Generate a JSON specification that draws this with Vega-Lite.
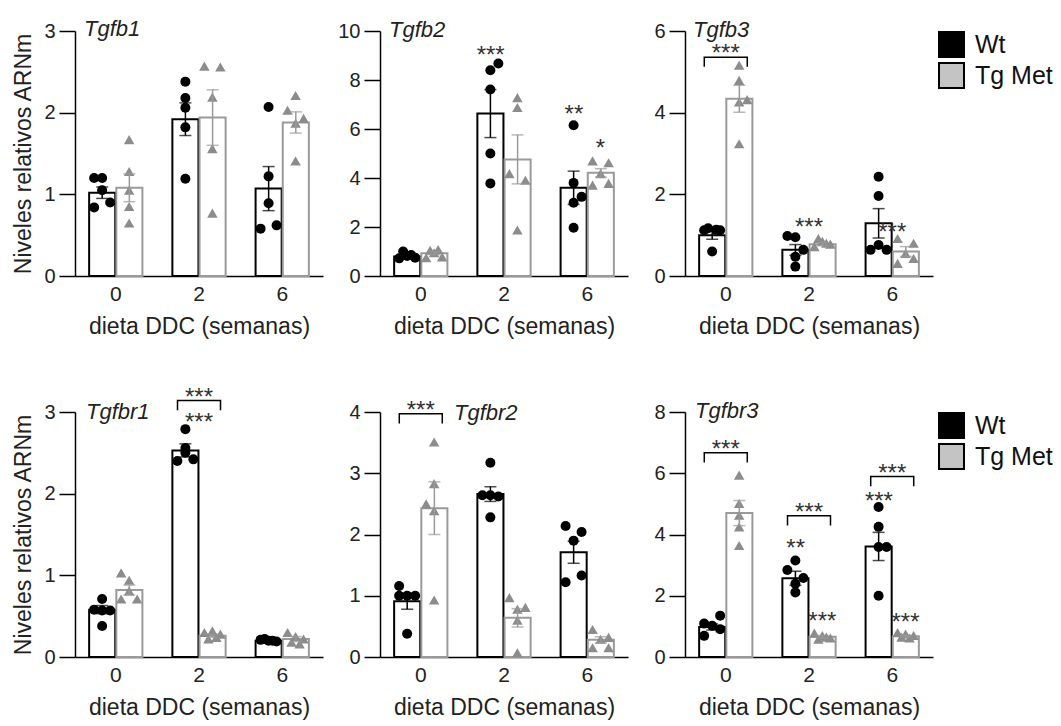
{
  "$schema": "https://vega.github.io/schema/vega-lite/v6.json",
  "background": "white",
  "padding": {"left": 12, "top": 18, "right": 5, "bottom": 5},
  "config": {
    "font": "Liberation Sans",
    "view": {"stroke": null},
    "axis": {"domainColor": "black", "domainWidth": 1.5, "tickColor": "black", "tickWidth": 1.5, "labelColor": "#222", "titleColor": "#222", "titleFontWeight": "normal", "grid": false},
    "axisX": {"ticks": false, "labelAngle": 0, "labelFontSize": 21, "labelPadding": 7, "titleFontSize": 23, "titlePadding": 11},
    "axisY": {"tickSize": 16, "labelPadding": 4, "labelFontSize": 20, "titleFontSize": 23, "titlePadding": 8},
    "title": {"anchor": "start", "frame": "group", "fontSize": 22, "fontStyle": "italic", "fontWeight": "normal", "baseline": "alphabetic", "offset": -16, "color": "#222"},
    "scale": {"offsetBandPaddingInner": 0.04, "offsetBandPaddingOuter": 0},
    "legend": {"orient": "right", "offset": 5, "symbolType": "square", "symbolSize": 625, "symbolStrokeColor": "black", "symbolStrokeWidth": 2, "labelFontSize": 25, "labelOffset": 10, "rowPadding": -2, "labelColor": "#111", "padding": 0, "labelBaseline": "middle"}
  },
  "datasets": {
    "stats": [
      {"gene": "Tgfb1", "week": 0, "group": "Wt", "v": 1.02, "se": 0.07},
      {"gene": "Tgfb1", "week": 0, "group": "Tg Met", "v": 1.08, "se": 0.17},
      {"gene": "Tgfb1", "week": 2, "group": "Wt", "v": 1.92, "se": 0.2},
      {"gene": "Tgfb1", "week": 2, "group": "Tg Met", "v": 1.94, "se": 0.34},
      {"gene": "Tgfb1", "week": 6, "group": "Wt", "v": 1.07, "se": 0.27},
      {"gene": "Tgfb1", "week": 6, "group": "Tg Met", "v": 1.88, "se": 0.13},
      {"gene": "Tgfb2", "week": 0, "group": "Wt", "v": 0.8, "se": 0.05},
      {"gene": "Tgfb2", "week": 0, "group": "Tg Met", "v": 0.93, "se": 0.06},
      {"gene": "Tgfb2", "week": 2, "group": "Wt", "v": 6.63, "se": 0.98},
      {"gene": "Tgfb2", "week": 2, "group": "Tg Met", "v": 4.76, "se": 1.0},
      {"gene": "Tgfb2", "week": 6, "group": "Wt", "v": 3.6, "se": 0.68},
      {"gene": "Tgfb2", "week": 6, "group": "Tg Met", "v": 4.21, "se": 0.17},
      {"gene": "Tgfb3", "week": 0, "group": "Wt", "v": 1.0, "se": 0.1},
      {"gene": "Tgfb3", "week": 0, "group": "Tg Met", "v": 4.34, "se": 0.33},
      {"gene": "Tgfb3", "week": 2, "group": "Wt", "v": 0.64, "se": 0.13},
      {"gene": "Tgfb3", "week": 2, "group": "Tg Met", "v": 0.78, "se": 0.04},
      {"gene": "Tgfb3", "week": 6, "group": "Wt", "v": 1.29, "se": 0.36},
      {"gene": "Tgfb3", "week": 6, "group": "Tg Met", "v": 0.6, "se": 0.12},
      {"gene": "Tgfbr1", "week": 0, "group": "Wt", "v": 0.58, "se": 0.05},
      {"gene": "Tgfbr1", "week": 0, "group": "Tg Met", "v": 0.82, "se": 0.06},
      {"gene": "Tgfbr1", "week": 2, "group": "Wt", "v": 2.53, "se": 0.08},
      {"gene": "Tgfbr1", "week": 2, "group": "Tg Met", "v": 0.26, "se": 0.02},
      {"gene": "Tgfbr1", "week": 6, "group": "Wt", "v": 0.2, "se": 0.01},
      {"gene": "Tgfbr1", "week": 6, "group": "Tg Met", "v": 0.22, "se": 0.03},
      {"gene": "Tgfbr2", "week": 0, "group": "Wt", "v": 0.91, "se": 0.13},
      {"gene": "Tgfbr2", "week": 0, "group": "Tg Met", "v": 2.43, "se": 0.43},
      {"gene": "Tgfbr2", "week": 2, "group": "Wt", "v": 2.66, "se": 0.12},
      {"gene": "Tgfbr2", "week": 2, "group": "Tg Met", "v": 0.64, "se": 0.15},
      {"gene": "Tgfbr2", "week": 6, "group": "Wt", "v": 1.71, "se": 0.18},
      {"gene": "Tgfbr2", "week": 6, "group": "Tg Met", "v": 0.28, "se": 0.05},
      {"gene": "Tgfbr3", "week": 0, "group": "Wt", "v": 0.98, "se": 0.1},
      {"gene": "Tgfbr3", "week": 0, "group": "Tg Met", "v": 4.7, "se": 0.41},
      {"gene": "Tgfbr3", "week": 2, "group": "Wt", "v": 2.57, "se": 0.23},
      {"gene": "Tgfbr3", "week": 2, "group": "Tg Met", "v": 0.66, "se": 0.04},
      {"gene": "Tgfbr3", "week": 6, "group": "Wt", "v": 3.61, "se": 0.46},
      {"gene": "Tgfbr3", "week": 6, "group": "Tg Met", "v": 0.68, "se": 0.03}
    ],
    "obs": [
      {"gene": "Tgfb1", "week": 0, "group": "Wt", "v": 1.2, "lane": -2},
      {"gene": "Tgfb1", "week": 0, "group": "Wt", "v": 1.2, "lane": 0},
      {"gene": "Tgfb1", "week": 0, "group": "Wt", "v": 1.05, "lane": 0},
      {"gene": "Tgfb1", "week": 0, "group": "Wt", "v": 0.84, "lane": -2},
      {"gene": "Tgfb1", "week": 0, "group": "Wt", "v": 0.9, "lane": 2},
      {"gene": "Tgfb1", "week": 0, "group": "Tg Met", "v": 1.67, "lane": 0},
      {"gene": "Tgfb1", "week": 0, "group": "Tg Met", "v": 1.28, "lane": 0},
      {"gene": "Tgfb1", "week": 0, "group": "Tg Met", "v": 1.05, "lane": 0},
      {"gene": "Tgfb1", "week": 0, "group": "Tg Met", "v": 0.85, "lane": 0},
      {"gene": "Tgfb1", "week": 0, "group": "Tg Met", "v": 0.65, "lane": 0},
      {"gene": "Tgfb1", "week": 2, "group": "Wt", "v": 2.38, "lane": 0},
      {"gene": "Tgfb1", "week": 2, "group": "Wt", "v": 2.18, "lane": 0},
      {"gene": "Tgfb1", "week": 2, "group": "Wt", "v": 2.06, "lane": 0},
      {"gene": "Tgfb1", "week": 2, "group": "Wt", "v": 1.82, "lane": 0},
      {"gene": "Tgfb1", "week": 2, "group": "Wt", "v": 1.19, "lane": 0},
      {"gene": "Tgfb1", "week": 2, "group": "Tg Met", "v": 2.57, "lane": -2},
      {"gene": "Tgfb1", "week": 2, "group": "Tg Met", "v": 2.56, "lane": 2},
      {"gene": "Tgfb1", "week": 2, "group": "Tg Met", "v": 2.19, "lane": 0},
      {"gene": "Tgfb1", "week": 2, "group": "Tg Met", "v": 1.56, "lane": 0},
      {"gene": "Tgfb1", "week": 2, "group": "Tg Met", "v": 0.77, "lane": 0},
      {"gene": "Tgfb1", "week": 6, "group": "Wt", "v": 2.07, "lane": 0},
      {"gene": "Tgfb1", "week": 6, "group": "Wt", "v": 1.22, "lane": 0},
      {"gene": "Tgfb1", "week": 6, "group": "Wt", "v": 0.89, "lane": 0},
      {"gene": "Tgfb1", "week": 6, "group": "Wt", "v": 0.58, "lane": -2},
      {"gene": "Tgfb1", "week": 6, "group": "Wt", "v": 0.62, "lane": 2},
      {"gene": "Tgfb1", "week": 6, "group": "Tg Met", "v": 2.21, "lane": 0},
      {"gene": "Tgfb1", "week": 6, "group": "Tg Met", "v": 2.03, "lane": -2},
      {"gene": "Tgfb1", "week": 6, "group": "Tg Met", "v": 1.93, "lane": 2},
      {"gene": "Tgfb1", "week": 6, "group": "Tg Met", "v": 1.87, "lane": 0},
      {"gene": "Tgfb1", "week": 6, "group": "Tg Met", "v": 1.41, "lane": 0},

      {"gene": "Tgfb2", "week": 0, "group": "Wt", "v": 0.72, "lane": -2},
      {"gene": "Tgfb2", "week": 0, "group": "Wt", "v": 1.0, "lane": -1},
      {"gene": "Tgfb2", "week": 0, "group": "Wt", "v": 0.82, "lane": 0},
      {"gene": "Tgfb2", "week": 0, "group": "Wt", "v": 0.86, "lane": 1},
      {"gene": "Tgfb2", "week": 0, "group": "Wt", "v": 0.75, "lane": 2},
      {"gene": "Tgfb2", "week": 0, "group": "Tg Met", "v": 0.75, "lane": -2},
      {"gene": "Tgfb2", "week": 0, "group": "Tg Met", "v": 1.05, "lane": -1},
      {"gene": "Tgfb2", "week": 0, "group": "Tg Met", "v": 0.95, "lane": 0},
      {"gene": "Tgfb2", "week": 0, "group": "Tg Met", "v": 1.08, "lane": 1},
      {"gene": "Tgfb2", "week": 0, "group": "Tg Met", "v": 0.78, "lane": 2},
      {"gene": "Tgfb2", "week": 2, "group": "Wt", "v": 8.4, "lane": 0},
      {"gene": "Tgfb2", "week": 2, "group": "Wt", "v": 8.67, "lane": 2},
      {"gene": "Tgfb2", "week": 2, "group": "Wt", "v": 7.61, "lane": 0},
      {"gene": "Tgfb2", "week": 2, "group": "Wt", "v": 5.0, "lane": 0},
      {"gene": "Tgfb2", "week": 2, "group": "Wt", "v": 3.78, "lane": 0},
      {"gene": "Tgfb2", "week": 2, "group": "Tg Met", "v": 7.28, "lane": 0},
      {"gene": "Tgfb2", "week": 2, "group": "Tg Met", "v": 6.88, "lane": 0},
      {"gene": "Tgfb2", "week": 2, "group": "Tg Met", "v": 4.18, "lane": -2},
      {"gene": "Tgfb2", "week": 2, "group": "Tg Met", "v": 3.91, "lane": 2},
      {"gene": "Tgfb2", "week": 2, "group": "Tg Met", "v": 1.88, "lane": 0},
      {"gene": "Tgfb2", "week": 6, "group": "Wt", "v": 6.15, "lane": 0},
      {"gene": "Tgfb2", "week": 6, "group": "Wt", "v": 3.8, "lane": 0},
      {"gene": "Tgfb2", "week": 6, "group": "Wt", "v": 3.23, "lane": 2},
      {"gene": "Tgfb2", "week": 6, "group": "Wt", "v": 2.99, "lane": 0},
      {"gene": "Tgfb2", "week": 6, "group": "Wt", "v": 1.97, "lane": 0},
      {"gene": "Tgfb2", "week": 6, "group": "Tg Met", "v": 4.7, "lane": -2},
      {"gene": "Tgfb2", "week": 6, "group": "Tg Met", "v": 4.62, "lane": 2},
      {"gene": "Tgfb2", "week": 6, "group": "Tg Met", "v": 4.18, "lane": 0},
      {"gene": "Tgfb2", "week": 6, "group": "Tg Met", "v": 3.71, "lane": -2},
      {"gene": "Tgfb2", "week": 6, "group": "Tg Met", "v": 3.78, "lane": 2},

      {"gene": "Tgfb3", "week": 0, "group": "Wt", "v": 1.12, "lane": -2},
      {"gene": "Tgfb3", "week": 0, "group": "Wt", "v": 1.17, "lane": -1},
      {"gene": "Tgfb3", "week": 0, "group": "Wt", "v": 1.13, "lane": 1},
      {"gene": "Tgfb3", "week": 0, "group": "Wt", "v": 1.12, "lane": 2},
      {"gene": "Tgfb3", "week": 0, "group": "Wt", "v": 0.6, "lane": 0},
      {"gene": "Tgfb3", "week": 0, "group": "Tg Met", "v": 5.16, "lane": 0},
      {"gene": "Tgfb3", "week": 0, "group": "Tg Met", "v": 4.79, "lane": 0},
      {"gene": "Tgfb3", "week": 0, "group": "Tg Met", "v": 4.26, "lane": 0},
      {"gene": "Tgfb3", "week": 0, "group": "Tg Met", "v": 4.32, "lane": 2},
      {"gene": "Tgfb3", "week": 0, "group": "Tg Met", "v": 3.24, "lane": 0},
      {"gene": "Tgfb3", "week": 2, "group": "Wt", "v": 0.98, "lane": -2},
      {"gene": "Tgfb3", "week": 2, "group": "Wt", "v": 0.95, "lane": 0},
      {"gene": "Tgfb3", "week": 2, "group": "Wt", "v": 0.47, "lane": 0},
      {"gene": "Tgfb3", "week": 2, "group": "Wt", "v": 0.64, "lane": 2},
      {"gene": "Tgfb3", "week": 2, "group": "Wt", "v": 0.23, "lane": 0},
      {"gene": "Tgfb3", "week": 2, "group": "Tg Met", "v": 0.72, "lane": -2},
      {"gene": "Tgfb3", "week": 2, "group": "Tg Met", "v": 0.92, "lane": -1},
      {"gene": "Tgfb3", "week": 2, "group": "Tg Met", "v": 0.85, "lane": 0},
      {"gene": "Tgfb3", "week": 2, "group": "Tg Met", "v": 0.8, "lane": 1},
      {"gene": "Tgfb3", "week": 2, "group": "Tg Met", "v": 0.78, "lane": 2},
      {"gene": "Tgfb3", "week": 6, "group": "Wt", "v": 2.43, "lane": 0},
      {"gene": "Tgfb3", "week": 6, "group": "Wt", "v": 1.96, "lane": 0},
      {"gene": "Tgfb3", "week": 6, "group": "Wt", "v": 0.64, "lane": -2},
      {"gene": "Tgfb3", "week": 6, "group": "Wt", "v": 0.76, "lane": 0},
      {"gene": "Tgfb3", "week": 6, "group": "Wt", "v": 0.64, "lane": 2},
      {"gene": "Tgfb3", "week": 6, "group": "Tg Met", "v": 0.92, "lane": -2},
      {"gene": "Tgfb3", "week": 6, "group": "Tg Met", "v": 0.8, "lane": 2},
      {"gene": "Tgfb3", "week": 6, "group": "Tg Met", "v": 0.55, "lane": 0},
      {"gene": "Tgfb3", "week": 6, "group": "Tg Met", "v": 0.31, "lane": -2},
      {"gene": "Tgfb3", "week": 6, "group": "Tg Met", "v": 0.43, "lane": 2},

      {"gene": "Tgfbr1", "week": 0, "group": "Wt", "v": 0.71, "lane": 0},
      {"gene": "Tgfbr1", "week": 0, "group": "Wt", "v": 0.58, "lane": -2},
      {"gene": "Tgfbr1", "week": 0, "group": "Wt", "v": 0.57, "lane": 0},
      {"gene": "Tgfbr1", "week": 0, "group": "Wt", "v": 0.57, "lane": 2},
      {"gene": "Tgfbr1", "week": 0, "group": "Wt", "v": 0.38, "lane": 0},
      {"gene": "Tgfbr1", "week": 0, "group": "Tg Met", "v": 1.03, "lane": -2},
      {"gene": "Tgfbr1", "week": 0, "group": "Tg Met", "v": 0.94, "lane": 0},
      {"gene": "Tgfbr1", "week": 0, "group": "Tg Met", "v": 0.81, "lane": 0},
      {"gene": "Tgfbr1", "week": 0, "group": "Tg Met", "v": 0.71, "lane": -2},
      {"gene": "Tgfbr1", "week": 0, "group": "Tg Met", "v": 0.71, "lane": 2},
      {"gene": "Tgfbr1", "week": 2, "group": "Wt", "v": 2.79, "lane": 0},
      {"gene": "Tgfbr1", "week": 2, "group": "Wt", "v": 2.56, "lane": 0},
      {"gene": "Tgfbr1", "week": 2, "group": "Wt", "v": 2.4, "lane": -2},
      {"gene": "Tgfbr1", "week": 2, "group": "Wt", "v": 2.42, "lane": 2},
      {"gene": "Tgfbr1", "week": 2, "group": "Wt", "v": 2.5, "lane": 0},
      {"gene": "Tgfbr1", "week": 2, "group": "Tg Met", "v": 0.3, "lane": -2},
      {"gene": "Tgfbr1", "week": 2, "group": "Tg Met", "v": 0.32, "lane": 0},
      {"gene": "Tgfbr1", "week": 2, "group": "Tg Met", "v": 0.28, "lane": 2},
      {"gene": "Tgfbr1", "week": 2, "group": "Tg Met", "v": 0.22, "lane": -1},
      {"gene": "Tgfbr1", "week": 2, "group": "Tg Met", "v": 0.24, "lane": 1},
      {"gene": "Tgfbr1", "week": 6, "group": "Wt", "v": 0.21, "lane": -2},
      {"gene": "Tgfbr1", "week": 6, "group": "Wt", "v": 0.22, "lane": -1},
      {"gene": "Tgfbr1", "week": 6, "group": "Wt", "v": 0.2, "lane": 0},
      {"gene": "Tgfbr1", "week": 6, "group": "Wt", "v": 0.2, "lane": 1},
      {"gene": "Tgfbr1", "week": 6, "group": "Wt", "v": 0.19, "lane": 2},
      {"gene": "Tgfbr1", "week": 6, "group": "Tg Met", "v": 0.3, "lane": -2},
      {"gene": "Tgfbr1", "week": 6, "group": "Tg Met", "v": 0.25, "lane": 0},
      {"gene": "Tgfbr1", "week": 6, "group": "Tg Met", "v": 0.22, "lane": 2},
      {"gene": "Tgfbr1", "week": 6, "group": "Tg Met", "v": 0.18, "lane": -1},
      {"gene": "Tgfbr1", "week": 6, "group": "Tg Met", "v": 0.16, "lane": 1},

      {"gene": "Tgfbr2", "week": 0, "group": "Wt", "v": 1.16, "lane": -2},
      {"gene": "Tgfbr2", "week": 0, "group": "Wt", "v": 1.0, "lane": -2},
      {"gene": "Tgfbr2", "week": 0, "group": "Wt", "v": 1.0, "lane": 0},
      {"gene": "Tgfbr2", "week": 0, "group": "Wt", "v": 1.0, "lane": 2},
      {"gene": "Tgfbr2", "week": 0, "group": "Wt", "v": 0.38, "lane": 0},
      {"gene": "Tgfbr2", "week": 0, "group": "Tg Met", "v": 3.51, "lane": 0},
      {"gene": "Tgfbr2", "week": 0, "group": "Tg Met", "v": 2.83, "lane": 0},
      {"gene": "Tgfbr2", "week": 0, "group": "Tg Met", "v": 2.5, "lane": -2},
      {"gene": "Tgfbr2", "week": 0, "group": "Tg Met", "v": 2.39, "lane": 0},
      {"gene": "Tgfbr2", "week": 0, "group": "Tg Met", "v": 0.93, "lane": 0},
      {"gene": "Tgfbr2", "week": 2, "group": "Wt", "v": 3.17, "lane": 0},
      {"gene": "Tgfbr2", "week": 2, "group": "Wt", "v": 2.64, "lane": -2},
      {"gene": "Tgfbr2", "week": 2, "group": "Wt", "v": 2.64, "lane": 0},
      {"gene": "Tgfbr2", "week": 2, "group": "Wt", "v": 2.62, "lane": 2},
      {"gene": "Tgfbr2", "week": 2, "group": "Wt", "v": 2.28, "lane": 0},
      {"gene": "Tgfbr2", "week": 2, "group": "Tg Met", "v": 0.97, "lane": -2},
      {"gene": "Tgfbr2", "week": 2, "group": "Tg Met", "v": 0.78, "lane": 0},
      {"gene": "Tgfbr2", "week": 2, "group": "Tg Met", "v": 0.81, "lane": 2},
      {"gene": "Tgfbr2", "week": 2, "group": "Tg Met", "v": 0.6, "lane": 0},
      {"gene": "Tgfbr2", "week": 2, "group": "Tg Met", "v": 0.07, "lane": 0},
      {"gene": "Tgfbr2", "week": 6, "group": "Wt", "v": 2.14, "lane": -2},
      {"gene": "Tgfbr2", "week": 6, "group": "Wt", "v": 2.04, "lane": 2},
      {"gene": "Tgfbr2", "week": 6, "group": "Wt", "v": 1.9, "lane": 0},
      {"gene": "Tgfbr2", "week": 6, "group": "Wt", "v": 1.22, "lane": -2},
      {"gene": "Tgfbr2", "week": 6, "group": "Wt", "v": 1.33, "lane": 2},
      {"gene": "Tgfbr2", "week": 6, "group": "Tg Met", "v": 0.45, "lane": -2},
      {"gene": "Tgfbr2", "week": 6, "group": "Tg Met", "v": 0.29, "lane": 0},
      {"gene": "Tgfbr2", "week": 6, "group": "Tg Met", "v": 0.32, "lane": 2},
      {"gene": "Tgfbr2", "week": 6, "group": "Tg Met", "v": 0.15, "lane": -2},
      {"gene": "Tgfbr2", "week": 6, "group": "Tg Met", "v": 0.15, "lane": 2},

      {"gene": "Tgfbr3", "week": 0, "group": "Wt", "v": 1.09, "lane": -2},
      {"gene": "Tgfbr3", "week": 0, "group": "Wt", "v": 1.02, "lane": 0},
      {"gene": "Tgfbr3", "week": 0, "group": "Wt", "v": 1.35, "lane": 2},
      {"gene": "Tgfbr3", "week": 0, "group": "Wt", "v": 0.69, "lane": -2},
      {"gene": "Tgfbr3", "week": 0, "group": "Wt", "v": 0.91, "lane": 2},
      {"gene": "Tgfbr3", "week": 0, "group": "Tg Met", "v": 5.94, "lane": 0},
      {"gene": "Tgfbr3", "week": 0, "group": "Tg Met", "v": 5.01, "lane": 0},
      {"gene": "Tgfbr3", "week": 0, "group": "Tg Met", "v": 4.63, "lane": 0},
      {"gene": "Tgfbr3", "week": 0, "group": "Tg Met", "v": 4.25, "lane": 0},
      {"gene": "Tgfbr3", "week": 0, "group": "Tg Met", "v": 3.64, "lane": 0},
      {"gene": "Tgfbr3", "week": 2, "group": "Wt", "v": 3.15, "lane": 0},
      {"gene": "Tgfbr3", "week": 2, "group": "Wt", "v": 2.84, "lane": -2},
      {"gene": "Tgfbr3", "week": 2, "group": "Wt", "v": 2.58, "lane": 2},
      {"gene": "Tgfbr3", "week": 2, "group": "Wt", "v": 2.39, "lane": 0},
      {"gene": "Tgfbr3", "week": 2, "group": "Wt", "v": 2.11, "lane": 0},
      {"gene": "Tgfbr3", "week": 2, "group": "Tg Met", "v": 0.78, "lane": -2},
      {"gene": "Tgfbr3", "week": 2, "group": "Tg Met", "v": 0.7, "lane": 0},
      {"gene": "Tgfbr3", "week": 2, "group": "Tg Met", "v": 0.62, "lane": 2},
      {"gene": "Tgfbr3", "week": 2, "group": "Tg Met", "v": 0.58, "lane": -1},
      {"gene": "Tgfbr3", "week": 2, "group": "Tg Met", "v": 0.65, "lane": 1},
      {"gene": "Tgfbr3", "week": 6, "group": "Wt", "v": 4.9, "lane": 0},
      {"gene": "Tgfbr3", "week": 6, "group": "Wt", "v": 4.25, "lane": 0},
      {"gene": "Tgfbr3", "week": 6, "group": "Wt", "v": 3.59, "lane": 0},
      {"gene": "Tgfbr3", "week": 6, "group": "Wt", "v": 3.59, "lane": 2},
      {"gene": "Tgfbr3", "week": 6, "group": "Wt", "v": 2.0, "lane": 0},
      {"gene": "Tgfbr3", "week": 6, "group": "Tg Met", "v": 0.8, "lane": -2},
      {"gene": "Tgfbr3", "week": 6, "group": "Tg Met", "v": 0.75, "lane": 0},
      {"gene": "Tgfbr3", "week": 6, "group": "Tg Met", "v": 0.7, "lane": 2},
      {"gene": "Tgfbr3", "week": 6, "group": "Tg Met", "v": 0.65, "lane": -1},
      {"gene": "Tgfbr3", "week": 6, "group": "Tg Met", "v": 0.62, "lane": 1}
    ],
    "stars": [
      {"gene": "Tgfb2", "week": 2, "group": "Wt", "v": 9.18, "label": "***"},
      {"gene": "Tgfb2", "week": 6, "group": "Wt", "v": 6.77, "label": "**"},
      {"gene": "Tgfb2", "week": 6, "group": "Tg Met", "v": 5.38, "label": "*"},
      {"gene": "Tgfb3", "week": 2, "group": "Tg Met", "v": 1.29, "label": "***"},
      {"gene": "Tgfb3", "week": 6, "group": "Tg Met", "v": 1.17, "label": "***"},
      {"gene": "Tgfbr1", "week": 2, "group": "Wt", "v": 2.93, "label": "***"},
      {"gene": "Tgfbr3", "week": 2, "group": "Wt", "v": 3.7, "label": "**"},
      {"gene": "Tgfbr3", "week": 2, "group": "Tg Met", "v": 1.31, "label": "***"},
      {"gene": "Tgfbr3", "week": 6, "group": "Wt", "v": 5.21, "label": "***"},
      {"gene": "Tgfbr3", "week": 6, "group": "Tg Met", "v": 1.27, "label": "***"}
    ],
    "pairs": [
      {"gene": "Tgfb3", "week": 0, "v": 5.36, "label": "***"},
      {"gene": "Tgfbr1", "week": 2, "v": 3.14, "label": "***"},
      {"gene": "Tgfbr2", "week": 0, "v": 3.97, "label": "***"},
      {"gene": "Tgfbr3", "week": 0, "v": 6.67, "label": "***"},
      {"gene": "Tgfbr3", "week": 2, "v": 4.61, "label": "***"},
      {"gene": "Tgfbr3", "week": 6, "v": 5.89, "label": "***"}
    ]
  },
  "bounds": "flush",
  "columns": 3,
  "spacing": {"row": 136, "column": 57},
  "resolve": {"scale": {"fill": "independent"}},
  "concat": [
    {
      "width": 248, "height": 245,
      "title": {"text": "Tgfb1", "dx": 9, "offset": -20},
      "resolve": {"scale": {"xOffset": "independent"}},
      "layer": [
        {"data": {"name": "stats"}, "transform": [{"filter": "datum.gene == 'Tgfb1'"}],
         "mark": {"type": "bar", "fill": "white", "strokeWidth": 2},
         "encoding": {
           "x": {"field": "week", "type": "ordinal", "title": "dieta DDC (semanas)", "scale": {"paddingInner": 0.36, "paddingOuter": 0.17}},
           "xOffset": {"field": "group", "type": "nominal", "sort": ["Wt", "Tg Met"]},
           "y": {"field": "v", "type": "quantitative", "title": "Niveles relativos ARNm", "scale": {"domain": [0, 3], "nice": false}, "axis": {"values": [0, 1, 2, 3], "format": "d"}},
           "stroke": {"field": "group", "type": "nominal", "scale": {"domain": ["Wt", "Tg Met"], "range": ["black", "#9a9a9a"]}, "legend": null}
         }},
        {"data": {"name": "obs"}, "transform": [{"filter": "datum.gene == 'Tgfb1' && datum.group == 'Wt'"}],
         "mark": {"type": "point", "shape": "circle", "filled": true, "color": "black", "size": 100, "opacity": 1},
         "encoding": {"x": {"field": "week", "type": "ordinal"}, "xOffset": {"field": "lane", "type": "ordinal", "scale": {"type": "point", "domain": [-2, -1, 0, 1, 2], "range": [3, 23]}}, "y": {"field": "v", "type": "quantitative", "title": "Niveles relativos ARNm"}}},
        {"data": {"name": "obs"}, "transform": [{"filter": "datum.gene == 'Tgfb1' && datum.group == 'Tg Met'"}],
         "mark": {"type": "point", "shape": "triangle-up", "filled": true, "color": "#8c8c8c", "size": 110, "opacity": 1},
         "encoding": {"x": {"field": "week", "type": "ordinal"}, "xOffset": {"field": "lane", "type": "ordinal", "scale": {"type": "point", "domain": [-2, -1, 0, 1, 2], "range": [30, 50]}}, "y": {"field": "v", "type": "quantitative", "title": "Niveles relativos ARNm"}}},
        {"data": {"name": "stats"}, "transform": [{"filter": "datum.gene == 'Tgfb1'"}],
         "mark": {"type": "errorbar", "ticks": {"size": 12}, "thickness": 1.5},
         "encoding": {"x": {"field": "week", "type": "ordinal"}, "xOffset": {"field": "group", "type": "nominal", "sort": ["Wt", "Tg Met"]}, "y": {"field": "v", "type": "quantitative", "title": "Niveles relativos ARNm"}, "yError": {"field": "se"},
           "color": {"field": "group", "type": "nominal", "scale": {"domain": ["Wt", "Tg Met"], "range": ["black", "#9a9a9a"]}, "legend": null}}}
      ]
    },
    {
      "width": 248, "height": 245,
      "title": {"text": "Tgfb2", "dx": 9, "offset": -21},
      "resolve": {"scale": {"xOffset": "independent"}},
      "layer": [
        {"data": {"name": "stats"}, "transform": [{"filter": "datum.gene == 'Tgfb2'"}],
         "mark": {"type": "bar", "fill": "white", "strokeWidth": 2},
         "encoding": {
           "x": {"field": "week", "type": "ordinal", "title": "dieta DDC (semanas)", "scale": {"paddingInner": 0.36, "paddingOuter": 0.17}},
           "xOffset": {"field": "group", "type": "nominal", "sort": ["Wt", "Tg Met"]},
           "y": {"field": "v", "type": "quantitative", "title": null, "scale": {"domain": [0, 10], "nice": false}, "axis": {"values": [0, 2, 4, 6, 8, 10], "format": "d"}},
           "stroke": {"field": "group", "type": "nominal", "scale": {"domain": ["Wt", "Tg Met"], "range": ["black", "#9a9a9a"]}, "legend": null}
         }},
        {"data": {"name": "obs"}, "transform": [{"filter": "datum.gene == 'Tgfb2' && datum.group == 'Wt'"}],
         "mark": {"type": "point", "shape": "circle", "filled": true, "color": "black", "size": 100, "opacity": 1},
         "encoding": {"x": {"field": "week", "type": "ordinal"}, "xOffset": {"field": "lane", "type": "ordinal", "scale": {"type": "point", "domain": [-2, -1, 0, 1, 2], "range": [3, 23]}}, "y": {"field": "v", "type": "quantitative", "title": null}}},
        {"data": {"name": "obs"}, "transform": [{"filter": "datum.gene == 'Tgfb2' && datum.group == 'Tg Met'"}],
         "mark": {"type": "point", "shape": "triangle-up", "filled": true, "color": "#8c8c8c", "size": 110, "opacity": 1},
         "encoding": {"x": {"field": "week", "type": "ordinal"}, "xOffset": {"field": "lane", "type": "ordinal", "scale": {"type": "point", "domain": [-2, -1, 0, 1, 2], "range": [30, 50]}}, "y": {"field": "v", "type": "quantitative", "title": null}}},
        {"data": {"name": "stats"}, "transform": [{"filter": "datum.gene == 'Tgfb2'"}],
         "mark": {"type": "errorbar", "ticks": {"size": 12}, "thickness": 1.5},
         "encoding": {"x": {"field": "week", "type": "ordinal"}, "xOffset": {"field": "group", "type": "nominal", "sort": ["Wt", "Tg Met"]}, "y": {"field": "v", "type": "quantitative", "title": null}, "yError": {"field": "se"},
           "color": {"field": "group", "type": "nominal", "scale": {"domain": ["Wt", "Tg Met"], "range": ["black", "#9a9a9a"]}, "legend": null}}},
        {"data": {"name": "stars"}, "transform": [{"filter": "datum.gene == 'Tgfb2'"}],
         "mark": {"type": "text", "fontSize": 24, "baseline": "middle", "dy": 5, "color": "#333"},
         "encoding": {"x": {"field": "week", "type": "ordinal"}, "xOffset": {"field": "group", "type": "nominal", "sort": ["Wt", "Tg Met"]}, "y": {"field": "v", "type": "quantitative", "title": null}, "text": {"field": "label"}}}
      ]
    },
    {
      "width": 248, "height": 245,
      "title": {"text": "Tgfb3", "dx": 8, "offset": -21},
      "resolve": {"scale": {"xOffset": "independent"}},
      "layer": [
        {"data": {"name": "stats"}, "transform": [{"filter": "datum.gene == 'Tgfb3'"}],
         "mark": {"type": "bar"},
         "encoding": {
           "x": {"field": "week", "type": "ordinal"},
           "xOffset": {"field": "group", "type": "nominal", "sort": ["Wt", "Tg Met"]},
           "y": {"field": "v", "type": "quantitative", "title": null},
           "fill": {"field": "group", "type": "nominal", "scale": {"domain": ["Wt", "Tg Met"], "range": ["black", "#c4c4c4"]}, "legend": {"title": null, "offset": 5}}
         }},
        {"data": {"name": "stats"}, "transform": [{"filter": "datum.gene == 'Tgfb3'"}],
         "mark": {"type": "bar", "fill": "white", "strokeWidth": 2},
         "encoding": {
           "x": {"field": "week", "type": "ordinal", "title": "dieta DDC (semanas)", "scale": {"paddingInner": 0.36, "paddingOuter": 0.17}},
           "xOffset": {"field": "group", "type": "nominal", "sort": ["Wt", "Tg Met"]},
           "y": {"field": "v", "type": "quantitative", "title": null, "scale": {"domain": [0, 6], "nice": false}, "axis": {"values": [0, 2, 4, 6], "format": "d"}},
           "stroke": {"field": "group", "type": "nominal", "scale": {"domain": ["Wt", "Tg Met"], "range": ["black", "#9a9a9a"]}, "legend": null}
         }},
        {"data": {"name": "obs"}, "transform": [{"filter": "datum.gene == 'Tgfb3' && datum.group == 'Wt'"}],
         "mark": {"type": "point", "shape": "circle", "filled": true, "color": "black", "size": 100, "opacity": 1},
         "encoding": {"x": {"field": "week", "type": "ordinal"}, "xOffset": {"field": "lane", "type": "ordinal", "scale": {"type": "point", "domain": [-2, -1, 0, 1, 2], "range": [3, 23]}}, "y": {"field": "v", "type": "quantitative", "title": null}}},
        {"data": {"name": "obs"}, "transform": [{"filter": "datum.gene == 'Tgfb3' && datum.group == 'Tg Met'"}],
         "mark": {"type": "point", "shape": "triangle-up", "filled": true, "color": "#8c8c8c", "size": 110, "opacity": 1},
         "encoding": {"x": {"field": "week", "type": "ordinal"}, "xOffset": {"field": "lane", "type": "ordinal", "scale": {"type": "point", "domain": [-2, -1, 0, 1, 2], "range": [30, 50]}}, "y": {"field": "v", "type": "quantitative", "title": null}}},
        {"data": {"name": "stats"}, "transform": [{"filter": "datum.gene == 'Tgfb3'"}],
         "mark": {"type": "errorbar", "ticks": {"size": 12}, "thickness": 1.5},
         "encoding": {"x": {"field": "week", "type": "ordinal"}, "xOffset": {"field": "group", "type": "nominal", "sort": ["Wt", "Tg Met"]}, "y": {"field": "v", "type": "quantitative", "title": null}, "yError": {"field": "se"},
           "color": {"field": "group", "type": "nominal", "scale": {"domain": ["Wt", "Tg Met"], "range": ["black", "#9a9a9a"]}, "legend": null}}},
        {"data": {"name": "stars"}, "transform": [{"filter": "datum.gene == 'Tgfb3'"}],
         "mark": {"type": "text", "fontSize": 24, "baseline": "middle", "dy": 5, "color": "#333"},
         "encoding": {"x": {"field": "week", "type": "ordinal"}, "xOffset": {"field": "group", "type": "nominal", "sort": ["Wt", "Tg Met"]}, "y": {"field": "v", "type": "quantitative", "title": null}, "text": {"field": "label"}}},
        {"data": {"name": "pairs"}, "transform": [{"filter": "datum.gene == 'Tgfb3'"}],
         "mark": {"type": "point", "shape": "M-1,0.45L-1,0L1,0L1,0.45", "size": 1849, "filled": false, "stroke": "black", "strokeWidth": 1.5, "opacity": 1},
         "encoding": {"x": {"field": "week", "type": "ordinal"}, "y": {"field": "v", "type": "quantitative", "title": null}}},
        {"data": {"name": "pairs"}, "transform": [{"filter": "datum.gene == 'Tgfb3'"}],
         "mark": {"type": "text", "fontSize": 24, "baseline": "middle", "dy": -3, "color": "#333"},
         "encoding": {"x": {"field": "week", "type": "ordinal"}, "y": {"field": "v", "type": "quantitative", "title": null}, "text": {"field": "label"}}}
      ]
    },
    {
      "width": 248, "height": 245,
      "title": {"text": "Tgfbr1", "dx": 11, "offset": -38},
      "resolve": {"scale": {"xOffset": "independent"}},
      "layer": [
        {"data": {"name": "stats"}, "transform": [{"filter": "datum.gene == 'Tgfbr1'"}],
         "mark": {"type": "bar", "fill": "white", "strokeWidth": 2},
         "encoding": {
           "x": {"field": "week", "type": "ordinal", "title": "dieta DDC (semanas)", "scale": {"paddingInner": 0.36, "paddingOuter": 0.17}},
           "xOffset": {"field": "group", "type": "nominal", "sort": ["Wt", "Tg Met"]},
           "y": {"field": "v", "type": "quantitative", "title": "Niveles relativos ARNm", "scale": {"domain": [0, 3], "nice": false}, "axis": {"values": [0, 1, 2, 3], "format": "d"}},
           "stroke": {"field": "group", "type": "nominal", "scale": {"domain": ["Wt", "Tg Met"], "range": ["black", "#9a9a9a"]}, "legend": null}
         }},
        {"data": {"name": "obs"}, "transform": [{"filter": "datum.gene == 'Tgfbr1' && datum.group == 'Wt'"}],
         "mark": {"type": "point", "shape": "circle", "filled": true, "color": "black", "size": 100, "opacity": 1},
         "encoding": {"x": {"field": "week", "type": "ordinal"}, "xOffset": {"field": "lane", "type": "ordinal", "scale": {"type": "point", "domain": [-2, -1, 0, 1, 2], "range": [3, 23]}}, "y": {"field": "v", "type": "quantitative", "title": "Niveles relativos ARNm"}}},
        {"data": {"name": "obs"}, "transform": [{"filter": "datum.gene == 'Tgfbr1' && datum.group == 'Tg Met'"}],
         "mark": {"type": "point", "shape": "triangle-up", "filled": true, "color": "#8c8c8c", "size": 110, "opacity": 1},
         "encoding": {"x": {"field": "week", "type": "ordinal"}, "xOffset": {"field": "lane", "type": "ordinal", "scale": {"type": "point", "domain": [-2, -1, 0, 1, 2], "range": [30, 50]}}, "y": {"field": "v", "type": "quantitative", "title": "Niveles relativos ARNm"}}},
        {"data": {"name": "stats"}, "transform": [{"filter": "datum.gene == 'Tgfbr1'"}],
         "mark": {"type": "errorbar", "ticks": {"size": 12}, "thickness": 1.5},
         "encoding": {"x": {"field": "week", "type": "ordinal"}, "xOffset": {"field": "group", "type": "nominal", "sort": ["Wt", "Tg Met"]}, "y": {"field": "v", "type": "quantitative", "title": "Niveles relativos ARNm"}, "yError": {"field": "se"},
           "color": {"field": "group", "type": "nominal", "scale": {"domain": ["Wt", "Tg Met"], "range": ["black", "#9a9a9a"]}, "legend": null}}},
        {"data": {"name": "stars"}, "transform": [{"filter": "datum.gene == 'Tgfbr1'"}],
         "mark": {"type": "text", "fontSize": 24, "baseline": "middle", "dy": 5, "color": "#333"},
         "encoding": {"x": {"field": "week", "type": "ordinal"}, "xOffset": {"field": "group", "type": "nominal", "sort": ["Wt", "Tg Met"]}, "y": {"field": "v", "type": "quantitative", "title": "Niveles relativos ARNm"}, "text": {"field": "label"}}},
        {"data": {"name": "pairs"}, "transform": [{"filter": "datum.gene == 'Tgfbr1'"}],
         "mark": {"type": "point", "shape": "M-1,0.45L-1,0L1,0L1,0.45", "size": 1849, "filled": false, "stroke": "black", "strokeWidth": 1.5, "opacity": 1},
         "encoding": {"x": {"field": "week", "type": "ordinal"}, "y": {"field": "v", "type": "quantitative", "title": "Niveles relativos ARNm"}}},
        {"data": {"name": "pairs"}, "transform": [{"filter": "datum.gene == 'Tgfbr1'"}],
         "mark": {"type": "text", "fontSize": 24, "baseline": "middle", "dy": -3, "color": "#333"},
         "encoding": {"x": {"field": "week", "type": "ordinal"}, "y": {"field": "v", "type": "quantitative", "title": "Niveles relativos ARNm"}, "text": {"field": "label"}}}
      ]
    },
    {
      "width": 248, "height": 245,
      "title": {"text": "Tgfbr2", "dx": 74, "offset": -26},
      "resolve": {"scale": {"xOffset": "independent"}},
      "layer": [
        {"data": {"name": "stats"}, "transform": [{"filter": "datum.gene == 'Tgfbr2'"}],
         "mark": {"type": "bar", "fill": "white", "strokeWidth": 2},
         "encoding": {
           "x": {"field": "week", "type": "ordinal", "title": "dieta DDC (semanas)", "scale": {"paddingInner": 0.36, "paddingOuter": 0.17}},
           "xOffset": {"field": "group", "type": "nominal", "sort": ["Wt", "Tg Met"]},
           "y": {"field": "v", "type": "quantitative", "title": null, "scale": {"domain": [0, 4], "nice": false}, "axis": {"values": [0, 1, 2, 3, 4], "format": "d"}},
           "stroke": {"field": "group", "type": "nominal", "scale": {"domain": ["Wt", "Tg Met"], "range": ["black", "#9a9a9a"]}, "legend": null}
         }},
        {"data": {"name": "obs"}, "transform": [{"filter": "datum.gene == 'Tgfbr2' && datum.group == 'Wt'"}],
         "mark": {"type": "point", "shape": "circle", "filled": true, "color": "black", "size": 100, "opacity": 1},
         "encoding": {"x": {"field": "week", "type": "ordinal"}, "xOffset": {"field": "lane", "type": "ordinal", "scale": {"type": "point", "domain": [-2, -1, 0, 1, 2], "range": [3, 23]}}, "y": {"field": "v", "type": "quantitative", "title": null}}},
        {"data": {"name": "obs"}, "transform": [{"filter": "datum.gene == 'Tgfbr2' && datum.group == 'Tg Met'"}],
         "mark": {"type": "point", "shape": "triangle-up", "filled": true, "color": "#8c8c8c", "size": 110, "opacity": 1},
         "encoding": {"x": {"field": "week", "type": "ordinal"}, "xOffset": {"field": "lane", "type": "ordinal", "scale": {"type": "point", "domain": [-2, -1, 0, 1, 2], "range": [30, 50]}}, "y": {"field": "v", "type": "quantitative", "title": null}}},
        {"data": {"name": "stats"}, "transform": [{"filter": "datum.gene == 'Tgfbr2'"}],
         "mark": {"type": "errorbar", "ticks": {"size": 12}, "thickness": 1.5},
         "encoding": {"x": {"field": "week", "type": "ordinal"}, "xOffset": {"field": "group", "type": "nominal", "sort": ["Wt", "Tg Met"]}, "y": {"field": "v", "type": "quantitative", "title": null}, "yError": {"field": "se"},
           "color": {"field": "group", "type": "nominal", "scale": {"domain": ["Wt", "Tg Met"], "range": ["black", "#9a9a9a"]}, "legend": null}}},
        {"data": {"name": "pairs"}, "transform": [{"filter": "datum.gene == 'Tgfbr2'"}],
         "mark": {"type": "point", "shape": "M-1,0.45L-1,0L1,0L1,0.45", "size": 1849, "filled": false, "stroke": "black", "strokeWidth": 1.5, "opacity": 1},
         "encoding": {"x": {"field": "week", "type": "ordinal"}, "y": {"field": "v", "type": "quantitative", "title": null}}},
        {"data": {"name": "pairs"}, "transform": [{"filter": "datum.gene == 'Tgfbr2'"}],
         "mark": {"type": "text", "fontSize": 24, "baseline": "middle", "dy": -3, "color": "#333"},
         "encoding": {"x": {"field": "week", "type": "ordinal"}, "y": {"field": "v", "type": "quantitative", "title": null}, "text": {"field": "label"}}}
      ]
    },
    {
      "width": 248, "height": 245,
      "title": {"text": "Tgfbr3", "dx": 10, "offset": -21},
      "resolve": {"scale": {"xOffset": "independent"}},
      "layer": [
        {"data": {"name": "stats"}, "transform": [{"filter": "datum.gene == 'Tgfbr3'"}],
         "mark": {"type": "bar"},
         "encoding": {
           "x": {"field": "week", "type": "ordinal"},
           "xOffset": {"field": "group", "type": "nominal", "sort": ["Wt", "Tg Met"]},
           "y": {"field": "v", "type": "quantitative", "title": null},
           "fill": {"field": "group", "type": "nominal", "scale": {"domain": ["Wt", "Tg Met"], "range": ["black", "#c4c4c4"]}, "legend": {"title": null, "offset": 5}}
         }},
        {"data": {"name": "stats"}, "transform": [{"filter": "datum.gene == 'Tgfbr3'"}],
         "mark": {"type": "bar", "fill": "white", "strokeWidth": 2},
         "encoding": {
           "x": {"field": "week", "type": "ordinal", "title": "dieta DDC (semanas)", "scale": {"paddingInner": 0.36, "paddingOuter": 0.17}},
           "xOffset": {"field": "group", "type": "nominal", "sort": ["Wt", "Tg Met"]},
           "y": {"field": "v", "type": "quantitative", "title": null, "scale": {"domain": [0, 8], "nice": false}, "axis": {"values": [0, 2, 4, 6, 8], "format": "d"}},
           "stroke": {"field": "group", "type": "nominal", "scale": {"domain": ["Wt", "Tg Met"], "range": ["black", "#9a9a9a"]}, "legend": null}
         }},
        {"data": {"name": "obs"}, "transform": [{"filter": "datum.gene == 'Tgfbr3' && datum.group == 'Wt'"}],
         "mark": {"type": "point", "shape": "circle", "filled": true, "color": "black", "size": 100, "opacity": 1},
         "encoding": {"x": {"field": "week", "type": "ordinal"}, "xOffset": {"field": "lane", "type": "ordinal", "scale": {"type": "point", "domain": [-2, -1, 0, 1, 2], "range": [3, 23]}}, "y": {"field": "v", "type": "quantitative", "title": null}}},
        {"data": {"name": "obs"}, "transform": [{"filter": "datum.gene == 'Tgfbr3' && datum.group == 'Tg Met'"}],
         "mark": {"type": "point", "shape": "triangle-up", "filled": true, "color": "#8c8c8c", "size": 110, "opacity": 1},
         "encoding": {"x": {"field": "week", "type": "ordinal"}, "xOffset": {"field": "lane", "type": "ordinal", "scale": {"type": "point", "domain": [-2, -1, 0, 1, 2], "range": [30, 50]}}, "y": {"field": "v", "type": "quantitative", "title": null}}},
        {"data": {"name": "stats"}, "transform": [{"filter": "datum.gene == 'Tgfbr3'"}],
         "mark": {"type": "errorbar", "ticks": {"size": 12}, "thickness": 1.5},
         "encoding": {"x": {"field": "week", "type": "ordinal"}, "xOffset": {"field": "group", "type": "nominal", "sort": ["Wt", "Tg Met"]}, "y": {"field": "v", "type": "quantitative", "title": null}, "yError": {"field": "se"},
           "color": {"field": "group", "type": "nominal", "scale": {"domain": ["Wt", "Tg Met"], "range": ["black", "#9a9a9a"]}, "legend": null}}},
        {"data": {"name": "stars"}, "transform": [{"filter": "datum.gene == 'Tgfbr3'"}],
         "mark": {"type": "text", "fontSize": 24, "baseline": "middle", "dy": 5, "color": "#333"},
         "encoding": {"x": {"field": "week", "type": "ordinal"}, "xOffset": {"field": "group", "type": "nominal", "sort": ["Wt", "Tg Met"]}, "y": {"field": "v", "type": "quantitative", "title": null}, "text": {"field": "label"}}},
        {"data": {"name": "pairs"}, "transform": [{"filter": "datum.gene == 'Tgfbr3'"}],
         "mark": {"type": "point", "shape": "M-1,0.45L-1,0L1,0L1,0.45", "size": 1849, "filled": false, "stroke": "black", "strokeWidth": 1.5, "opacity": 1},
         "encoding": {"x": {"field": "week", "type": "ordinal"}, "y": {"field": "v", "type": "quantitative", "title": null}}},
        {"data": {"name": "pairs"}, "transform": [{"filter": "datum.gene == 'Tgfbr3'"}],
         "mark": {"type": "text", "fontSize": 24, "baseline": "middle", "dy": -3, "color": "#333"},
         "encoding": {"x": {"field": "week", "type": "ordinal"}, "y": {"field": "v", "type": "quantitative", "title": null}, "text": {"field": "label"}}}
      ]
    }
  ]
}
